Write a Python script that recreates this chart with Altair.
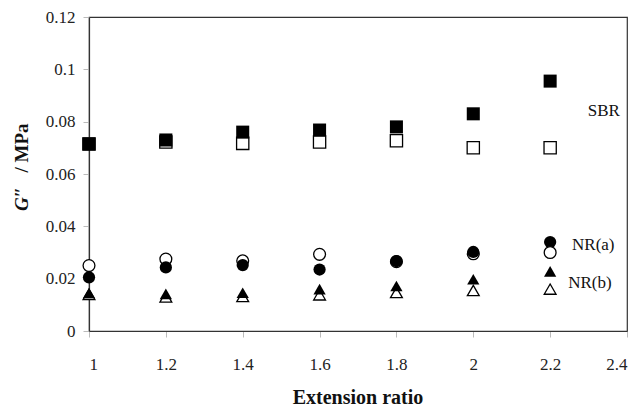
import altair as alt
import pandas as pd

ratio = [1.0, 1.2, 1.4, 1.6, 1.8, 2.0, 2.2]
sbr_filled = [0.0715, 0.0730, 0.0760, 0.0768, 0.0780, 0.0830, 0.0955]
sbr_open = [0.0715, 0.0722, 0.0717, 0.0722, 0.0727, 0.0700, 0.0700]

ratio_nr = [1.0, 1.2, 1.4, 1.6, 1.8, 2.0]
nra_filled = [0.0205, 0.0243, 0.0252, 0.0235, 0.0267, 0.0302]
nra_open = [0.0250, 0.0275, 0.0268, 0.0293, 0.0265, 0.0295]
nrb_filled = [0.0145, 0.0142, 0.0146, 0.0160, 0.0172, 0.0198]
nrb_open = [0.0140, 0.0130, 0.0132, 0.0138, 0.0147, 0.0155]

# legend-like markers drawn inside the plot
leg_x = [2.2, 2.2, 2.2, 2.2]
leg_y = [0.0340, 0.0300, 0.0228, 0.0160]

label_text = ["SBR", "NR(a)", "NR(b)"]
label_x = [2.298, 2.257, 2.247]
label_y = [0.0841, 0.0329, 0.0183]

FONT = "Liberation Serif, Times New Roman, serif"


def df(xs, ys):
    return pd.DataFrame({"x": xs, "y": ys})


xs = alt.Scale(domain=[1, 2.4])
ys = alt.Scale(domain=[0, 0.12])

xenc = alt.X("x:Q", scale=xs, axis=alt.Axis(
    values=[1, 1.2, 1.4, 1.6, 1.8, 2, 2.2, 2.4], format=".1~f",
    title=None, labelPadding=19))
yenc = alt.Y("y:Q", scale=ys, axis=alt.Axis(
    values=[0, 0.02, 0.04, 0.06, 0.08, 0.1, 0.12], format=".2~f",
    title=None, labelPadding=8))


def pts(xv, yv, shape, filled, size):
    m = alt.Chart(df(xv, yv)).mark_point(
        shape=shape, filled=filled, size=size, opacity=1,
        color="black", strokeWidth=1.3,
        fill="black" if filled else "white")
    return m.encode(x=xenc, y=yenc)


layers = [
    pts(ratio, sbr_open, "square", False, 150),
    pts(ratio, sbr_filled, "square", True, 170),
    pts(ratio_nr, nra_open, "circle", False, 140),
    pts(ratio_nr, nra_filled, "circle", True, 150),
    pts(ratio_nr, nrb_open, "triangle-up", False, 140),
    pts(ratio_nr, nrb_filled, "triangle-up", True, 150),
    pts([leg_x[0]], [leg_y[0]], "circle", True, 150),
    pts([leg_x[1]], [leg_y[1]], "circle", False, 140),
    pts([leg_x[2]], [leg_y[2]], "triangle-up", True, 150),
    pts([leg_x[3]], [leg_y[3]], "triangle-up", False, 140),
]

labels = alt.Chart(pd.DataFrame({"t": label_text, "x": label_x, "y": label_y})).mark_text(
    align="left", baseline="middle", font=FONT, fontSize=17, color="#111"
).encode(x=xenc, y=yenc, text="t:N")

ytitle_g = alt.Chart(pd.DataFrame({"t": ["G″"]})).mark_text(
    angle=270, font=FONT, fontSize=19, fontWeight="bold", fontStyle="italic",
    align="center", baseline="middle", color="#111"
).encode(x=alt.value(-67), y=alt.value(182), text="t:N")
ytitle_r = alt.Chart(pd.DataFrame({"t": ["/ MPa"]})).mark_text(
    angle=270, font=FONT, fontSize=19, fontWeight="bold",
    align="center", baseline="middle", color="#111"
).encode(x=alt.value(-67), y=alt.value(131), text="t:N")
xtitle = alt.Chart(pd.DataFrame({"t": ["Extension ratio"]})).mark_text(
    font=FONT, fontSize=20, fontWeight="bold",
    align="center", baseline="alphabetic", color="#111"
).encode(x=alt.value(269), y=alt.value(387), text="t:N")

chart = alt.layer(*layers, labels, ytitle_g, ytitle_r, xtitle).properties(
    width=538, height=314,
    autosize=alt.AutoSizeParams(type="none"),
    padding={"left": 81, "top": 9, "right": 5, "bottom": 76},
).configure_view(stroke="#333", strokeWidth=1.2).configure_axis(
    grid=False, labelFont=FONT, labelFontSize=17, labelColor="#222",
    domainColor="#333", domainWidth=1.2, tickColor="#bbb", tickSize=6,
)

chart.save("out.html", embed_options={"renderer": "svg", "actions": False})
